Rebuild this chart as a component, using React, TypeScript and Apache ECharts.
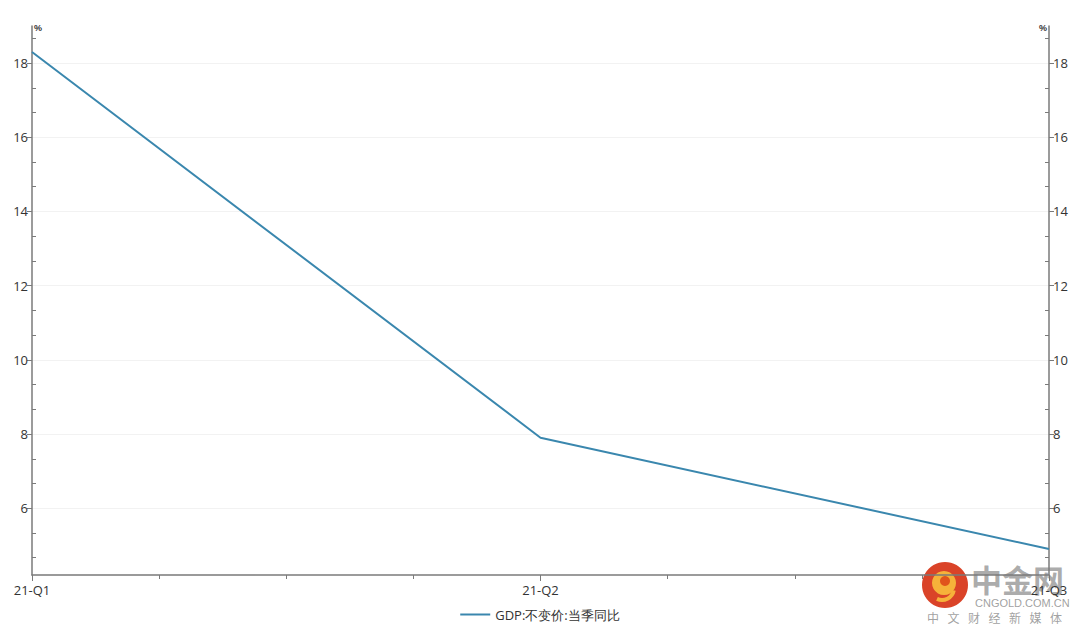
import React, { useEffect, useRef } from "react";
import * as echarts from "echarts";

const categories = ["21-Q1", "21-Q2", "21-Q3"];
const gdpValues = [18.3, 7.9, 4.9];
const seriesName = "GDP:不变价:当季同比";
const yUnit = "%";
const yMajorTicks = [6, 8, 10, 12, 14, 16, 18];
const yMin = 4.2;
const yMax = 19;
const watermarkTagline = ["中", "文", "财", "经", "新", "媒", "体"];

export default function App() {
  const ref = useRef<HTMLDivElement>(null);
  useEffect(() => {
    if (!ref.current) return;
    const chart = echarts.init(ref.current, null, { renderer: "svg" });
    const axisColor = "#7a7a7a";
    const labelStyle = { color: "#333", fontSize: 13, fontFamily: "Open Sans" };

    // minor ticks: thirds between majors (and beyond ends within the range)
    const step = (yMajorTicks[1] - yMajorTicks[0]) / 3;
    const yMinorTicks: number[] = [];
    for (let v = yMajorTicks[0] - 2 * step; v < yMax; v += step) {
      const r = Math.round(v * 1000) / 1000;
      if (r > yMin && r < yMax && !yMajorTicks.some((m) => Math.abs(m - r) < 1e-6)) yMinorTicks.push(r);
    }

    const yMain = (pos: "left" | "right") => ({
      type: "value",
      position: pos,
      min: yMin,
      max: yMax,
      name: yUnit,
      nameGap: -6,
      nameLocation: "end",
      nameTextStyle: {
        color: "#333",
        fontSize: 9,
        fontWeight: "bold",
        align: pos === "left" ? "left" : "right",
        padding: pos === "left" ? [0, 0, 0, 2] : [0, 2, 0, 0],
      },
      axisLine: { show: true, onZero: false, lineStyle: { color: axisColor, width: 1.5 } },
      axisTick: { show: true, length: 5, customValues: yMajorTicks, lineStyle: { color: axisColor } },
      axisLabel: { ...labelStyle, margin: 4, customValues: yMajorTicks },
      splitLine: { show: pos === "left", lineStyle: { color: "#f2f2f2", width: 1 } },
    });
    const yMinor = (pos: "left" | "right") => ({
      type: "value",
      position: pos,
      min: yMin,
      max: yMax,
      axisLine: { show: false },
      axisTick: { show: true, inside: true, length: 4, customValues: yMinorTicks, lineStyle: { color: axisColor } },
      axisLabel: { show: false },
      splitLine: { show: false },
    });

    chart.setOption({
      animation: false,
      backgroundColor: "#fff",
      grid: { left: 32, right: 31, top: 26, bottom: 59, containLabel: false },
      legend: {
        bottom: 8,
        left: "center",
        itemWidth: 30,
        itemHeight: 2,
        icon: "rect",
        textStyle: { color: "#333", fontSize: 13, fontFamily: "Open Sans" },
        data: [seriesName],
      },
      xAxis: {
        type: "value",
        min: 0,
        max: categories.length - 1,
        interval: 1,
        axisLine: { show: true, onZero: false, lineStyle: { color: axisColor, width: 1.5 } },
        axisTick: { show: true, length: 6, lineStyle: { color: axisColor } },
        minorTick: { show: true, splitNumber: 4, length: 4, lineStyle: { color: axisColor } },
        splitLine: { show: false },
        axisLabel: {
          ...labelStyle,
          margin: 8,
          showMinLabel: true,
          showMaxLabel: true,
          formatter: (v: number) => categories[v] ?? "",
        },
      },
      yAxis: [yMain("left"), yMain("right"), yMinor("left"), yMinor("right")],
      graphic: [
        {
          type: "group",
          left: 922,
          top: 562,
          z: 100,
          children: [
            { type: "circle", shape: { cx: 23, cy: 23, r: 23 }, style: { fill: "#d8391c", opacity: 0.95 } },
            { type: "circle", shape: { cx: 22, cy: 21, r: 12 }, style: { fill: "#f6b23a" } },
            { type: "circle", shape: { cx: 23, cy: 19, r: 5 }, style: { fill: "#e0541c" } },
            { type: "arc", shape: { cx: 20, cy: 26, r: 12, startAngle: 0.2, endAngle: 2.0 }, style: { stroke: "#f6b23a", lineWidth: 4, fill: "none" } },
            { type: "text", style: { x: 49, y: 1, text: "中金网", fontSize: 31, fontWeight: "bold", fill: "rgba(150,150,150,0.8)", fontFamily: "Noto Sans CJK SC" } },
            { type: "text", style: { x: 53, y: 35, text: "CNGOLD.COM.CN", fontSize: 11, fill: "rgba(150,150,150,0.9)", fontFamily: "Liberation Sans" } },
            ...watermarkTagline.map((ch, i) => ({
              type: "text",
              style: { x: 5 + i * 20.5, y: 49, text: ch, fontSize: 12, fill: "rgba(150,150,150,0.9)", fontFamily: "Noto Sans CJK SC" },
            })),
          ],
        },
      ],
      series: [
        {
          name: seriesName,
          type: "line",
          yAxisIndex: 0,
          data: gdpValues.map((v, i) => [i, v]),
          showSymbol: false,
          symbol: "none",
          lineStyle: { color: "#3a87ae", width: 2 },
          itemStyle: { color: "#3a87ae" },
        },
      ],
    });
    return () => chart.dispose();
  }, []);
  return <div ref={ref} style={{ width: 1080, height: 634, position: "absolute", left: 0, top: 0 }} />;
}
